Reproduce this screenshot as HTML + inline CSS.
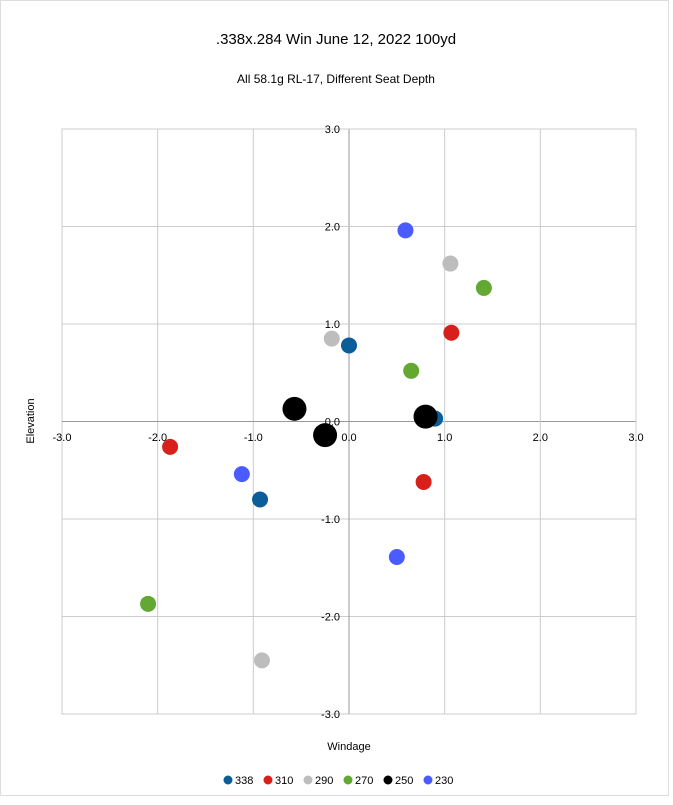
<!DOCTYPE html>
<html><head><meta charset="utf-8"><style>
body{margin:0;background:#fff;font-family:"Liberation Sans",sans-serif}
</style></head><body>
<svg id="c" width="673" height="800" xmlns="http://www.w3.org/2000/svg" font-family="Liberation Sans, sans-serif">
<rect x="0.5" y="0.5" width="668" height="795" fill="#fff" stroke="#ddd"/>
<text x="336" y="44" font-size="15" text-anchor="middle">.338x.284 Win June 12, 2022 100yd</text>
<text x="336" y="83" font-size="12" text-anchor="middle">All 58.1g RL-17, Different Seat Depth</text>
<rect x="62" y="129" width="574" height="585" fill="none" stroke="#bbb"/>
<g id="grid"></g><g id="ticks"></g><g id="pts"></g>
<text x="349" y="750" font-size="11" text-anchor="middle">Windage</text>
<text x="34" y="421" font-size="11" text-anchor="middle" transform="rotate(-90 34 421)">Elevation</text>
<g id="legend"></g>
</svg>
<script>
const seriesNames=["338","310","290","270","250","230"];
const seriesColors=["#0b5d9a","#d7201b","#bdbdbd","#62a832","#000000","#4a5cff"];
const xVals=[[0.0,0.90,-0.93],[-1.87,1.07,0.78],[-0.18,1.06,-0.91],[1.41,0.65,-2.10],[-0.57,-0.25,0.80],[0.59,-1.12,0.50]];
const yVals=[[0.78,0.03,-0.80],[-0.26,0.91,-0.62],[0.85,1.62,-2.45],[1.37,0.52,-1.87],[0.13,-0.14,0.05],[1.96,-0.54,-1.39]];
const tickVals=[-3,-2,-1,0,1,2,3];
const tickLabels=["-3.0","-2.0","-1.0","0.0","1.0","2.0","3.0"];
const NS="http://www.w3.org/2000/svg";
const X=v=>349+v*(574/6), Y=v=>421.5-v*(585/6);
function mk(t,a,p){const e=document.createElementNS(NS,t);for(const k in a)e.setAttribute(k,a[k]);p.appendChild(e);return e;}
const g=document.getElementById('grid'),tk=document.getElementById('ticks'),pts=document.getElementById('pts'),lg=document.getElementById('legend');
tickVals.forEach((v,i)=>{
 let l=mk('line',{x1:X(v),x2:X(v),y1:129,y2:714,stroke:v===0?'#999':'#ccc'},g);
 
 
 l=mk('line',{x1:62,x2:636,y1:Y(v),y2:Y(v),stroke:v===0?'#999':'#ccc'},g);
 
 
 let t=mk('text',{x:X(v),y:441,'font-size':11,'text-anchor':'middle'},tk);t.textContent=tickLabels[i];
 
 
 t=mk('text',{x:340,y:Y(v)+4,'font-size':11,'text-anchor':'end'},tk);t.textContent=tickLabels[i];
 
 
});
seriesNames.forEach((s,si)=>{
 xVals[si].forEach((xv,j)=>{
  const c=mk('circle',{cx:X(xv),cy:Y(yVals[si][j]),r:s==="250"?12:8,fill:seriesColors[si]},pts);
  
  
 });
});
const lx=[228,268,308,348,388,428];
seriesNames.forEach((s,si)=>{
 const c=mk('circle',{cx:lx[si],cy:780,r:4.5,fill:seriesColors[si]},lg);
 
 
 const t=mk('text',{x:lx[si]+7,y:784,'font-size':11},lg);t.textContent=s;
 
 
});
</script>
</body></html>
